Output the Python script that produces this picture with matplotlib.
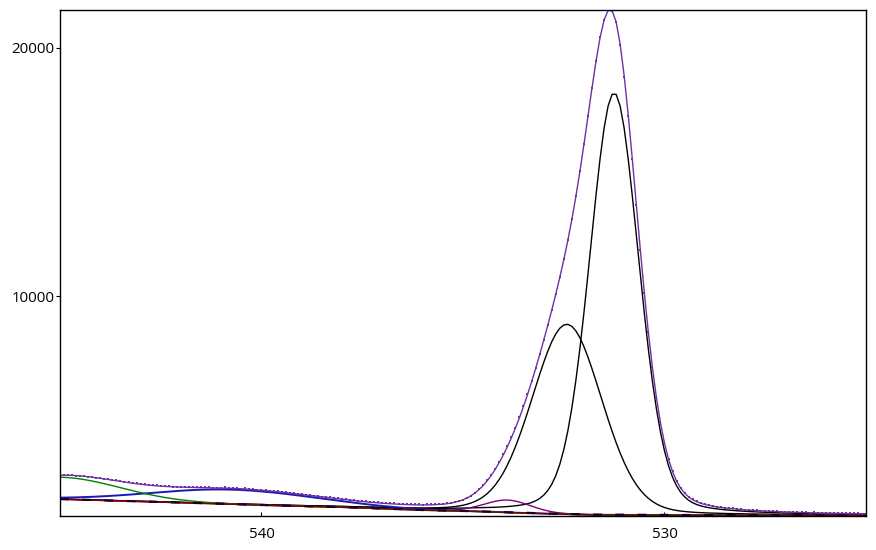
from matplotlib import pyplot as plt
import numpy as np

# binding energy grid of the scan (eV), 0.1 eV steps
energy = np.round(np.arange(545.0, 524.95, -0.1), 2)

counts = [
    2786, 2790, 2775, 2781, 2760, 2762, 2735, 2728, 2700, 2690,
    2668, 2640, 2612, 2590, 2575, 2540, 2520, 2490, 2475, 2450,
    2430, 2410, 2395, 2380, 2370, 2345, 2350, 2330, 2320, 2325,
    2310, 2305, 2320, 2300, 2295, 2290, 2310, 2290, 2285, 2280,
    2275, 2290, 2265, 2260, 2255, 2240, 2250, 2225, 2210, 2200,
    2190, 2170, 2165, 2140, 2130, 2110, 2095, 2080, 2070, 2040,
    2025, 2000, 1985, 1960, 1950, 1920, 1915, 1890, 1875, 1860,
    1840, 1820, 1795, 1785, 1760, 1750, 1730, 1715, 1705, 1690,
    1675, 1665, 1650, 1655, 1640, 1630, 1620, 1625, 1610, 1605,
    1600, 1610, 1605, 1615, 1620, 1635, 1650, 1670, 1700, 1745,
    1800, 1870, 1965, 2075, 2215, 2380, 2570, 2790, 3040, 3320,
    3620, 3950, 4310, 4700, 5120, 5570, 6050, 6560, 7090, 7650,
    8230, 8820, 9440, 10080, 10760, 11470, 12250, 13090, 14010, 15030,
    16110, 17250, 18390, 19470, 20420, 21120, 21530, 21490, 21020, 20120,
    18830, 17260, 15500, 13680, 11850, 10120, 8540, 7130, 5920, 4910,
    4090, 3440, 2940, 2560, 2280, 2075, 1920, 1810, 1730, 1665,
    1620, 1580, 1550, 1520, 1500, 1480, 1460, 1445, 1430, 1415,
    1400, 1390, 1380, 1370, 1360, 1350, 1345, 1335, 1330, 1320,
    1315, 1310, 1300, 1300, 1290, 1290, 1280, 1285, 1275, 1270,
    1270, 1265, 1260, 1265, 1255, 1260, 1250, 1255, 1245, 1240,
    1240,
]

# background anchor points
bg_energy = [545.0, 541.5, 540.0, 538.0, 536.0, 534.8, 533.3, 531.9, 530.0, 525.0]
bg_counts = [1815, 1653, 1573, 1492, 1371, 1330, 1250, 1190, 1172, 1160]

# fitted components: centre (eV), height above background, FWHM (eV), lorentz fraction
peak_centre = [531.25, 532.42, 533.9, 540.7, 545.0]
peak_height = [17000, 7650, 500, 590, 890]
peak_fwhm = [1.45, 2.05, 1.35, 4.8, 3.5]
peak_mix = [0.2, 0.15, 0.1, 0.0, 0.0]
peak_color = ['black', 'black', '#800080', '#1a1ab4', '#008000']


def pseudo_voigt(x, c, h, w, m):
    d = (x - c) ** 2 / w ** 2
    return h * ((1 - m) * np.exp(-4 * np.log(2) * d) + m / (1 + 4 * d))


def main():
    plt.rcParams['font.family'] = ['Open Sans', 'DejaVu Sans']
    bg = np.interp(energy, bg_energy[::-1], bg_counts[::-1])

    fig = plt.figure(figsize=(8.76, 5.5), dpi=100)
    ax = fig.add_axes([60 / 876, 34 / 550, 806 / 876, 506 / 550])

    envelope = bg.copy()
    for c, h, w, m, col in zip(peak_centre, peak_height, peak_fwhm, peak_mix, peak_color):
        comp = pseudo_voigt(energy, c, h, w, m)
        envelope += comp
        ax.plot(energy, bg + comp, color=col, lw=1.4 if col == '#1a1ab4' else 1.0)

    ax.plot(energy, bg, color='#800000', lw=1.0)
    ax.plot(energy, bg + 8, color='#200020', lw=1.6, dashes=(4, 6))
    ax.plot(energy, envelope, color='#7030a0', lw=1.0)
    ax.plot(energy, counts, ls='none', marker='s', ms=1.8, mew=0, color='#7030a0')

    ax.set_xlim(545, 525)
    ax.set_ylim(1140, 21518)
    ax.set_xticks([540, 530])
    ax.set_yticks([10000, 20000])
    ax.tick_params(axis='x', direction='in', length=3, pad=8, labelsize=10.8)
    ax.tick_params(axis='y', direction='out', length=3, pad=1, labelsize=10.8)
    for s in ax.spines.values():
        s.set_linewidth(1.0)

    fig.savefig('out.png', dpi=100)


if __name__ == '__main__':
    main()
